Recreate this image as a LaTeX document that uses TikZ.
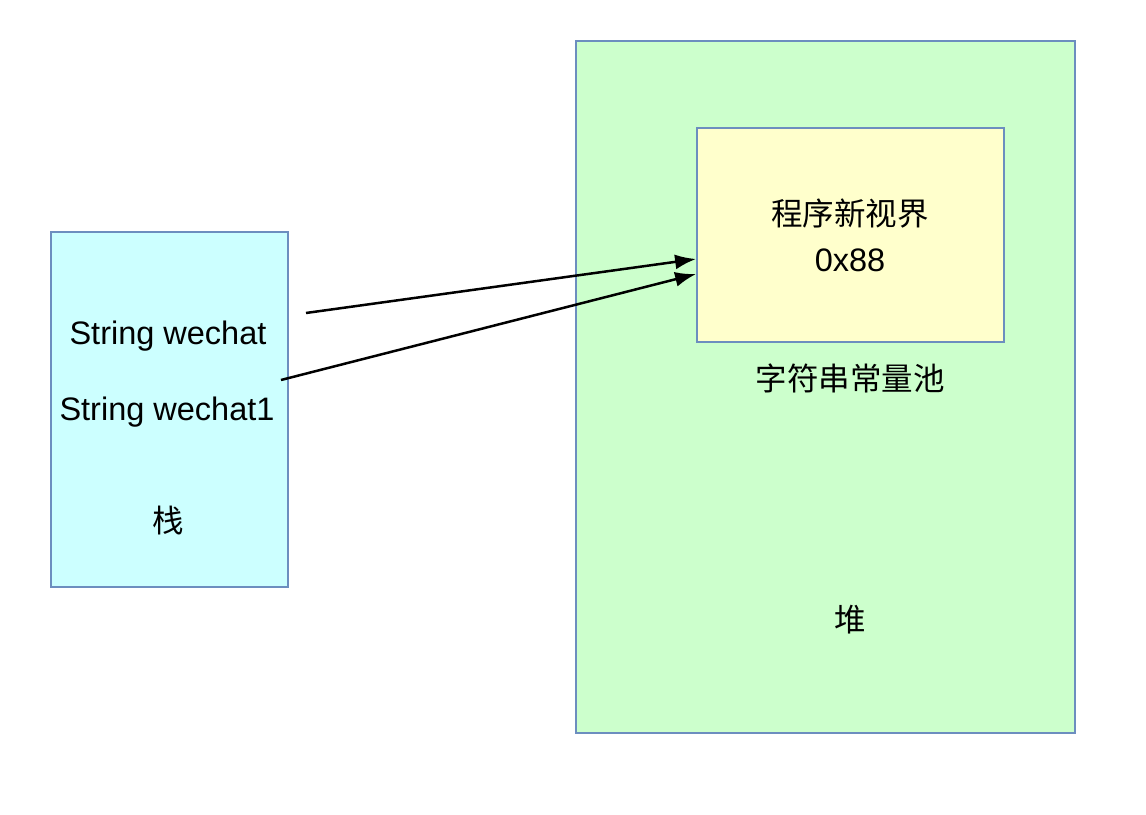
\documentclass[tikz,border=0pt]{standalone}
\usepackage{fontspec}
\setmainfont{Liberation Sans}
\newfontfamily\cjk{Noto Sans CJK SC}
\usetikzlibrary{arrows.meta}
\definecolor{edgeblue}{HTML}{6C8EBF}
\definecolor{stackfill}{HTML}{CCFFFF}
\definecolor{heapfill}{HTML}{CCFFCC}
\definecolor{poolfill}{HTML}{FFFFCC}
\tikzset{
  region/.style={draw=edgeblue, line width=1.8pt, inner sep=0pt, rectangle},
  lbl/.style={font=\fontsize{32.5}{36}\selectfont, inner sep=0pt, text=black},
  cjklbl/.style={font=\cjk\fontsize{31.5}{36}\selectfont, inner sep=0pt, text=black},
  ref/.style={draw=black, line width=2.5pt, -{Latex[length=21pt,width=15pt]}}
}
\begin{document}
\begin{tikzpicture}[x=1pt,y=1pt]
\useasboundingbox[fill=white] (0,0) rectangle (1146,814);
\node[region, fill=stackfill, minimum width=237pt, minimum height=355pt] (stack) at (169.5,404.5) {};
\node[region, fill=heapfill, minimum width=499pt, minimum height=692pt] (heap) at (825.5,427) {};
\node[region, fill=poolfill, minimum width=307pt, minimum height=214pt] (pool) at (850.5,579) {};
\node[lbl] (w1) at (168,478) {String wechat};
\node[lbl] (w2) at (167,402) {String wechat1};
\node[cjklbl] (zhan) at (168,293) {栈};
\node[cjklbl] (name) at (850,600) {程序新视界};
\node[lbl] (addr) at (850,554) {0x88};
\node[cjklbl] (poolname) at (850,436) {字符串常量池};
\node[cjklbl] (dui) at (850,194) {堆};
\coordinate (s1) at (306,501);
\coordinate (s2) at (281,434);
\draw[ref] (s1) -- ([yshift=-24pt]pool.west);
\draw[ref] (s2) -- ([yshift=-39pt]pool.west);
\end{tikzpicture}
\end{document}
